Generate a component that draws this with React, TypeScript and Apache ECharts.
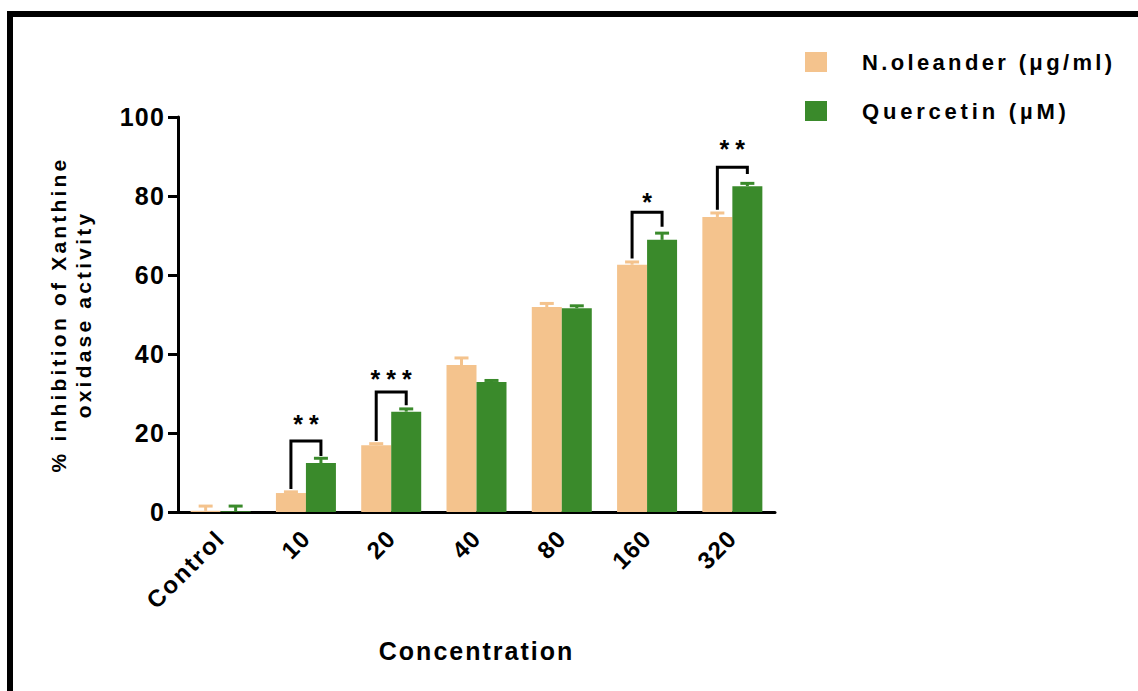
import React, { useEffect, useRef } from "react";
import * as echarts from "echarts";

const categories = ["Control", "10", "20", "40", "80", "160", "320"];
const seriesNames = ["N.oleander (\u03bcg/ml)", "Quercetin (\u00b5M)"];
const oleanderMean = [0.3, 4.8, 16.9, 37.2, 51.9, 62.6, 74.7];
const oleanderErr = [1.2, 0.3, 0.4, 1.8, 0.9, 0.7, 1.0];
const quercetinMean = [0.2, 12.4, 25.4, 32.9, 51.6, 68.9, 82.5];
const quercetinErr = [1.3, 1.2, 0.7, 0.4, 0.6, 1.7, 0.7];
const sigIndex = [1, 2, 5, 6];
const sigLeftY = [5.8, 18.0, 64.2, 76.5];
const sigRightY = [14.2, 27.0, 72.2, 85.6];
const sigTopY = [18.0, 30.4, 75.9, 87.3];
const sigStarY = [23.6, 35.0, 79.8, 93.2];
const sigLabels = ["**", "***", "*", "**"];
const yTicks = { min: 0, max: 100, interval: 20 };

const ORANGE = "#F4C38D";
const GREEN = "#3A8A2B";
const FONT = "'Liberation Sans', Arial, Helvetica, sans-serif";
const BAR_W = 30;

const spacingMap: Record<string, number> = {
  "% inhibition of Xanthine": 3.2,
  "oxidase activity": 3.2,
  Concentration: 2,
  [seriesNames[0]]: 3.35,
  [seriesNames[1]]: 3.8,
  Control: 2,
  "*": 6,
  "**": 6,
  "***": 6,
};

function applySpacing(el: HTMLElement) {
  el.querySelectorAll("text").forEach((t) => {
    const s = (t.textContent || "").trim();
    let v = spacingMap[s];
    if (v === undefined && /^\d+$/.test(s)) v = 1.2;
    if (v !== undefined) t.setAttribute("letter-spacing", String(v));
  });
}

export default function App() {
  const ref = useRef<HTMLDivElement>(null);
  useEffect(() => {
    if (!ref.current) return;
    const chart = echarts.init(ref.current, null, { renderer: "svg" });

    const errData = (means: number[], errs: number[]) =>
      means.map((m, i) => [i, m, errs[i]]);

    const errRender = (offset: number, color: string) => (params: any, api: any) => {
      const ci = api.value(0);
      const m = api.value(1);
      const e = api.value(2);
      const p0 = api.coord([ci, m]);
      const p1 = api.coord([ci, m + e]);
      const x = p0[0] + offset;
      return {
        type: "group",
        children: [
          { type: "line", shape: { x1: x, y1: p0[1], x2: x, y2: p1[1] }, style: { stroke: color, lineWidth: 3 } },
          { type: "line", shape: { x1: x - 7, y1: p1[1], x2: x + 7, y2: p1[1] }, style: { stroke: color, lineWidth: 3 } },
        ],
      };
    };

    const sigData = sigIndex.map((ci, i) => [ci, sigTopY[i], sigLeftY[i], sigRightY[i], sigStarY[i]]);

    chart.setOption({
      animation: false,
      backgroundColor: "#ffffff",
      textStyle: { fontFamily: FONT },
      grid: { left: 178, top: 117, width: 597, height: 395, containLabel: false },
      legend: {
        orient: "vertical",
        left: 800,
        top: 46,
        itemWidth: 22,
        itemHeight: 20,
        itemGap: 27,
        icon: "rect",
        data: seriesNames,
        textStyle: { fontFamily: FONT, fontSize: 22, fontWeight: "bold", color: "#000", padding: [0, 0, 0, 30] },
      },
      xAxis: {
        type: "category",
        data: categories,
        name: "Concentration",
        nameLocation: "middle",
        nameGap: 126,
        nameTextStyle: { fontFamily: FONT, fontSize: 25, fontWeight: "bold", color: "#000" },
        axisLine: { lineStyle: { color: "#000", width: 3 } },
        axisTick: { alignWithLabel: true, length: 9, lineStyle: { color: "#000", width: 3 } },
        axisLabel: { rotate: 45, margin: 22, fontFamily: FONT, fontSize: 24, fontWeight: "bold", color: "#000" },
      },
      yAxis: {
        type: "value",
        min: yTicks.min,
        max: yTicks.max,
        interval: yTicks.interval,
        name: "% inhibition of Xanthine\noxidase activity",
        nameLocation: "middle",
        nameRotate: 90,
        nameGap: 82,
        nameTextStyle: { fontFamily: FONT, fontSize: 21, fontWeight: "bold", color: "#000", lineHeight: 25 },
        splitLine: { show: false },
        axisLine: { show: true, lineStyle: { color: "#000", width: 3 } },
        axisTick: { show: true, length: 10, lineStyle: { color: "#000", width: 3 } },
        axisLabel: { margin: 13, fontFamily: FONT, fontSize: 25, fontWeight: "bold", color: "#000" },
      },
      series: [
        { name: seriesNames[0], type: "bar", data: oleanderMean, barWidth: BAR_W, barGap: "0%", itemStyle: { color: ORANGE } },
        { name: seriesNames[1], type: "bar", data: quercetinMean, barWidth: BAR_W, barGap: "0%", itemStyle: { color: GREEN } },
        { type: "custom", data: errData(oleanderMean, oleanderErr), renderItem: errRender(-BAR_W / 2, ORANGE), z: 3, clip: false, silent: true },
        { type: "custom", data: errData(quercetinMean, quercetinErr), renderItem: errRender(BAR_W / 2, GREEN), z: 3, clip: false, silent: true },
        {
          type: "custom",
          data: sigData,
          z: 4,
          clip: false,
          silent: true,
          renderItem: (params: any, api: any) => {
            const ci = api.value(0);
            const pT = api.coord([ci, api.value(1)]);
            const pL = api.coord([ci, api.value(2)]);
            const pR = api.coord([ci, api.value(3)]);
            const pS = api.coord([ci, api.value(4)]);
            const xL = pT[0] - BAR_W / 2;
            const xR = pT[0] + BAR_W / 2;
            return {
              type: "group",
              children: [
                {
                  type: "polyline",
                  shape: { points: [[xL, pL[1]], [xL, pT[1]], [xR, pT[1]], [xR, pR[1]]] },
                  style: { stroke: "#000", lineWidth: 3, fill: null },
                },
                {
                  type: "text",
                  x: pT[0] + 3,
                  y: pS[1] + 5,
                  style: {
                    text: sigLabels[params.dataIndex],
                    fontFamily: FONT,
                    fontSize: 25,
                    fontWeight: "bold",
                    fill: "#000",
                    align: "center",
                    verticalAlign: "middle",
                  },
                },
              ],
            };
          },
        },
      ],
      graphic: [
        { type: "line", shape: { x1: 7, y1: 14, x2: 1138, y2: 14 }, style: { stroke: "#000", lineWidth: 6 } },
        { type: "line", shape: { x1: 10, y1: 11, x2: 10, y2: 691 }, style: { stroke: "#000", lineWidth: 6 } },
      ],
    });
    applySpacing(ref.current);
    const el = ref.current;
    chart.on("finished", () => applySpacing(el));
    return () => chart.dispose();
  }, []);
  return <div ref={ref} style={{ position: "fixed", left: 0, top: 0, width: 1138, height: 691 }} />;
}
